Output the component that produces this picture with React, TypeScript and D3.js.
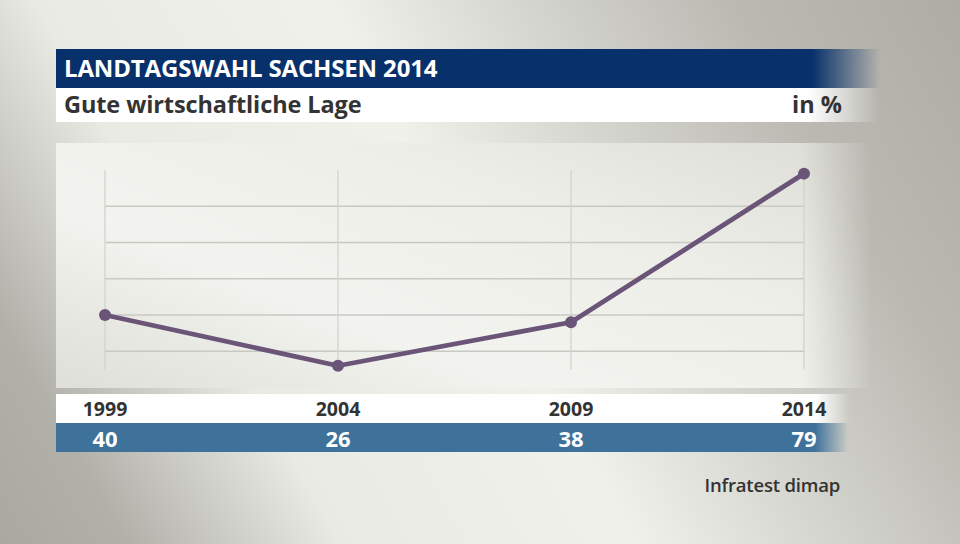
import React from "react";
import * as d3 from "d3";

const years = ["1999", "2004", "2009", "2014"];
const values = [40, 26, 38, 79];
const gridValues = [30, 40, 50, 60, 70];
const title = "LANDTAGSWAHL SACHSEN 2014";
const subtitle = "Gute wirtschaftliche Lage";
const unit = "in %";
const source = "Infratest dimap";

export default function App() {
  const W = 960, H = 544;
  const x = d3.scalePoint<string>().domain(years).range([105, 804]);
  const y = d3.scaleLinear().domain([0, 80]).range([460, 170]);
  const line = d3.line<number>().x((_, i) => x(years[i])!).y((d) => y(d));
  const font = "'Open Sans', 'Noto Sans', sans-serif";

  return (
    <svg width={W} height={H} style={{ position: "absolute", left: 0, top: 0 }} fontFamily={font}>
      <defs>
        <linearGradient id="bg" gradientUnits="userSpaceOnUse" x1={0} y1={544} x2={960} y2={0}>
          <stop offset="0" stopColor="#a9a8a1" />
          <stop offset="0.1" stopColor="#b1b0a9" />
          <stop offset="0.27" stopColor="#eaeae5" />
          <stop offset="0.5" stopColor="#f1f1ec" />
          <stop offset="0.65" stopColor="#d6d6d0" />
          <stop offset="0.82" stopColor="#bab9b2" />
          <stop offset="1" stopColor="#adaca5" />
        </linearGradient>
        <linearGradient id="panel" gradientUnits="userSpaceOnUse" x1={56} y1={388} x2={300} y2={-250}>
          <stop offset="0" stopColor="#dfdfd9" />
          <stop offset="0.25" stopColor="#f3f3ef" />
          <stop offset="0.5" stopColor="#eeeee9" />
          <stop offset="1" stopColor="#cdccc6" />
        </linearGradient>
        <linearGradient id="fadeMaskG" gradientUnits="userSpaceOnUse" x1={800} y1={0} x2={872} y2={0}>
          <stop offset="0" stopColor="#fff" />
          <stop offset="1" stopColor="#000" />
        </linearGradient>
        <mask id="panelMask">
          <rect x={0} y={0} width={W} height={H} fill="url(#fadeMaskG)" />
        </mask>
        <linearGradient id="titleFade" gradientUnits="userSpaceOnUse" x1={812} y1={0} x2={880} y2={0}>
          <stop offset="0" stopColor="#08306a" />
          <stop offset="1" stopColor="#08306a" stopOpacity="0" />
        </linearGradient>
        <linearGradient id="subFade" gradientUnits="userSpaceOnUse" x1={808} y1={0} x2={878} y2={0}>
          <stop offset="0" stopColor="#ffffff" />
          <stop offset="1" stopColor="#ffffff" stopOpacity="0" />
        </linearGradient>
        <linearGradient id="blueFade" gradientUnits="userSpaceOnUse" x1={815} y1={0} x2={848} y2={0}>
          <stop offset="0" stopColor="#3e729b" />
          <stop offset="1" stopColor="#3e729b" stopOpacity="0" />
        </linearGradient>
        <linearGradient id="yearFade" gradientUnits="userSpaceOnUse" x1={815} y1={0} x2={850} y2={0}>
          <stop offset="0" stopColor="#ffffff" />
          <stop offset="1" stopColor="#ffffff" stopOpacity="0" />
        </linearGradient>
      </defs>

      <rect width={W} height={H} fill="url(#bg)" />

      {/* title bars */}
      <rect x={56} y={49} width={824} height={39} fill="url(#titleFade)" />
      <text x={64} y={77} fill="#fff" fontSize={24} fontWeight={700} letterSpacing={-0.15}>{title}</text>
      <rect x={56} y={88} width={822} height={34} fill="url(#subFade)" />
      <text x={64} y={113} fill="#333" fontSize={23.5} fontWeight={700} letterSpacing={-0.1}>{subtitle}</text>
      <text x={842} y={113} fill="#333" fontSize={23.5} fontWeight={700} textAnchor="end">{unit}</text>

      {/* plot panel */}
      <g mask="url(#panelMask)">
        <rect x={56} y={143} width={820} height={245} fill="url(#panel)" />
      </g>

      {/* grid */}
      {gridValues.map((g) => (
        <line key={g} x1={105} x2={804} y1={y(g)} y2={y(g)} stroke="#c9c9c4" strokeWidth={1.3} />
      ))}
      {years.map((yr) => (
        <line key={yr} x1={x(yr)} x2={x(yr)} y1={y(80)} y2={y(25)} stroke="#d3d3ce" strokeWidth={1.3} />
      ))}

      {/* line */}
      <path d={line(values)!} fill="none" stroke="#6a5578" strokeWidth={4.8} strokeLinejoin="round" />
      {values.map((v, i) => (
        <circle key={i} cx={x(years[i])} cy={y(v)} r={6} fill="#6a5578" />
      ))}

      {/* year row */}
      <rect x={56} y={394} width={794} height={29} fill="url(#yearFade)" />
      {years.map((yr) => (
        <text key={yr} x={x(yr)} y={416} fill="#333" fontSize={19.5} fontWeight={700} textAnchor="middle">{yr}</text>
      ))}
      <rect x={56} y={423} width={794} height={29} fill="url(#blueFade)" />
      {values.map((v, i) => (
        <text key={i} x={x(years[i])} y={446.5} fill="#fff" fontSize={22} fontWeight={700} textAnchor="middle">{v}</text>
      ))}

      <text x={840} y={492} fill="#333" fontSize={18.5} fontWeight={600} textAnchor="end" letterSpacing={-0.2}>{source}</text>
    </svg>
  );
}
